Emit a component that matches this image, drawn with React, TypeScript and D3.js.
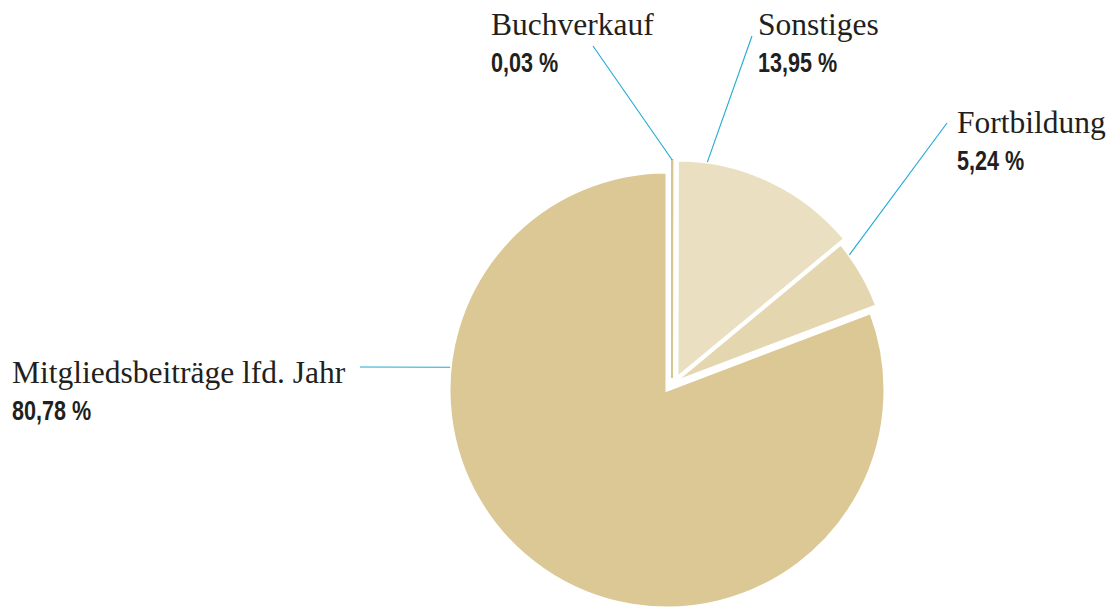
import React from 'react';
import * as d3 from 'd3';

const categories = ['Buchverkauf', 'Sonstiges', 'Fortbildung', 'Mitgliedsbeiträge lfd. Jahr'];
const shares = [0.03, 13.95, 5.24, 80.78];
const shareLabels = ['0,03 %', '13,95 %', '5,24 %', '80,78 %'];

const colors = ['#d9c58f', '#eae0c1', '#e4d6af', '#dbc894'];
// explode offsets of the small slices
const offsets: [number, number][] = [[5, -12], [10, -12], [6, -7], [0, 0]];
// where each leader line touches the slice (deg, clockwise from top) and where the label sits
const leaderAngle: (number | null)[] = [null, 8, 54, 276];
const labelPos: [number, number][] = [[491, 35], [758, 35], [957, 133], [12, 383]];
const leaderStart: [number, number][] = [[593, 46], [752, 36], [947, 123], [360, 367]];

const W = 1112, H = 612;
const cx = 667, cy = 390, R = 218;

export default function App() {
  const pie = d3.pie<number>().sort(null).value(d => d).startAngle(0).endAngle(2 * Math.PI);
  const arcs = pie(shares);
  const arc = d3.arc<d3.PieArcDatum<number>>().innerRadius(0).outerRadius(R);

  return (
    <svg width={W} height={H} style={{ position: 'absolute', left: 0, top: 0 }}>
      <rect width={W} height={H} fill="#fff" />
      {arcs.map((a, i) => {
        const [ox, oy] = offsets[i];
        const d = arc(a) || '';
        const tiny = a.endAngle - a.startAngle < 0.01;
        return (
          <g key={categories[i]} transform={`translate(${cx + ox},${cy + oy})`}>
            {tiny ? (
              <>
                <path d={d} fill="none" stroke="#fff" strokeWidth={6} />
                <path d={d} fill={colors[i]} stroke={colors[i]} strokeWidth={2} />
              </>
            ) : (
              <path d={d} fill={colors[i]} stroke="#fff" strokeWidth={3} strokeLinejoin="miter" />
            )}
          </g>
        );
      })}
      {arcs.map((a, i) => {
        const [ox, oy] = offsets[i];
        const ang = leaderAngle[i] == null ? (a.startAngle + a.endAngle) / 2 : (leaderAngle[i]! * Math.PI) / 180;
        const ex = cx + ox + R * Math.sin(ang);
        const ey = cy + oy - R * Math.cos(ang);
        const [sx, sy] = leaderStart[i];
        return (
          <line key={'l' + i} x1={sx} y1={sy} x2={ex} y2={ey} stroke="#1fa9d3" strokeWidth={1.1} />
        );
      })}
      {categories.map((c, i) => {
        const [lx, ly] = labelPos[i];
        return (
          <g key={'t' + i} fill="#231f20">
            <text x={lx} y={ly} fontFamily="'Liberation Serif', 'Times New Roman', serif" fontSize={31.5}>
              {c}
            </text>
            <g transform={`translate(${lx},${ly + 37}) scale(0.8,1)`}>
              <text
                x={0}
                y={0}
                fontFamily="'Liberation Sans', Arial, sans-serif"
                fontWeight="bold"
                fontSize={27}
              >
                {shareLabels[i]}
              </text>
            </g>
          </g>
        );
      })}
    </svg>
  );
}
